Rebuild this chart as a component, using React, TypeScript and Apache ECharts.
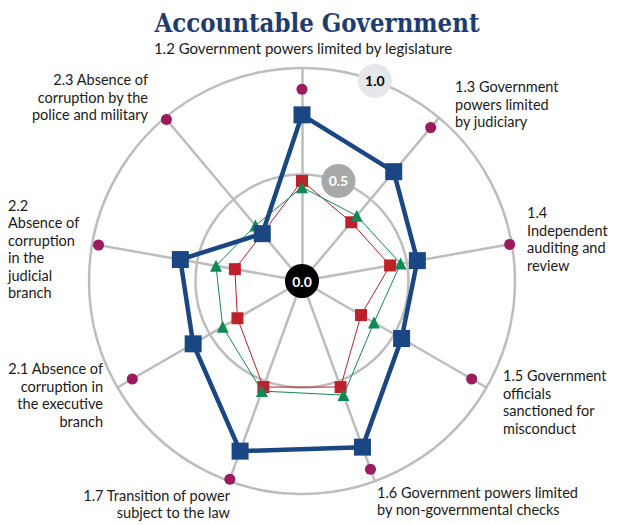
import React, { useEffect, useRef } from "react";
import * as echarts from "echarts";

// Categories in clockwise order starting at the top
const categories = [
  "1.2 Government powers limited by legislature",
  "1.3 Government powers limited by judiciary",
  "1.4 Independent auditing and review",
  "1.5 Government officials sanctioned for misconduct",
  "1.6 Government powers limited by non-governmental checks",
  "1.7 Transition of power subject to the law",
  "2.1 Absence of corruption in the executive branch",
  "2.2 Absence of corruption in the judicial branch",
  "2.3 Absence of corruption by the police and military",
];

const topValues = [0.9, 0.94, 0.99, 0.92, 0.94, 0.99, 0.92, 0.97, 0.99];
const countryValues = [0.78, 0.67, 0.55, 0.54, 0.83, 0.85, 0.59, 0.58, 0.29];
const regionValues = [0.47, 0.36, 0.42, 0.32, 0.53, 0.53, 0.35, 0.32, 0.29];
const incomeValues = [0.44, 0.4, 0.47, 0.39, 0.57, 0.55, 0.43, 0.41, 0.34];

const scaleTicks = [0, 0.5, 1];
const scaleTickLabels = ["0.0", "0.5", "1.0"];

// ECharts radar runs counter-clockwise: keep first, reverse the rest
const toRadar = (arr: any[]) => [arr[0], ...arr.slice(1).reverse()];

const CX = 302;
const CY = 281;
const R = 213;
const FONT = "Lato, 'Open Sans', sans-serif";
const LABEL_SIZE = 14.5;
const LINE_H = 17.5;

export default function App() {
  const ref = useRef<HTMLDivElement>(null);
  useEffect(() => {
    document.body.style.margin = "0";
    const chart = echarts.init(ref.current!, null, { renderer: "svg" });
    const labelStyle = (text: string, x: number, y: number, align: string) => ({
      type: "text",
      x,
      y,
      style: {
        text,
        fontSize: LABEL_SIZE,
        fontFamily: FONT,
        fill: "#1a1a1a",
        align,
        textAlign: align,
        verticalAlign: "top",
        textVerticalAlign: "top",
        lineHeight: LINE_H,
      },
    });
    const option: any = {
      animation: false,
      backgroundColor: "#ffffff",
      title: {
        text: "Accountable Government",
        left: 312,
        textAlign: "center",
        top: 5,
        textStyle: {
          fontFamily: "'DejaVu Serif Condensed', 'Liberation Serif', serif",
          fontWeight: "bold",
          fontSize: 25.5,
          color: "#1F3C70",
        },
      },
      radar: {
        center: [CX, CY],
        radius: R,
        startAngle: 90,
        shape: "circle",
        splitNumber: 2,
        indicator: toRadar(categories).map((c: string) => ({ name: c, min: 0, max: 1 })),
        axisName: { show: false },
        splitLine: { lineStyle: { color: "#BDBDBD", width: 2.5 } },
        splitArea: { show: false },
        axisLine: { lineStyle: { color: "#BDBDBD", width: 2.5 } },
        axisTick: { show: false },
        axisLabel: { show: false },
      },
      polar: { center: [CX, CY], radius: R },
      angleAxis: {
        type: "value",
        min: 0,
        max: 360,
        startAngle: 90,
        clockwise: true,
        show: false,
      },
      radiusAxis: { type: "value", min: 0, max: 1, show: false },
      series: [
        {
          type: "radar",
          z: 2,
          symbol: "circle",
          symbolSize: 11,
          itemStyle: { color: "#9B1B5E" },
          lineStyle: { width: 0, opacity: 0 },
          data: [{ value: toRadar(topValues), name: "Top" }],
        },
        {
          type: "radar",
          z: 3,
          symbol: "rect",
          symbolSize: 12,
          itemStyle: { color: "#C0202A" },
          lineStyle: { width: 1, color: "#C0202A" },
          data: [{ value: toRadar(regionValues), name: "Region" }],
        },
        {
          type: "radar",
          z: 4,
          symbol: "triangle",
          symbolSize: 12,
          itemStyle: { color: "#0F8A55" },
          lineStyle: { width: 1, color: "#0F8A55" },
          data: [{ value: toRadar(incomeValues), name: "Income" }],
        },
        {
          type: "radar",
          z: 5,
          symbol: "rect",
          symbolSize: 17,
          itemStyle: { color: "#1A4784" },
          lineStyle: { width: 4.5, color: "#1A4784" },
          data: [{ value: toRadar(countryValues), name: "Country" }],
        },
        {
          type: "scatter",
          coordinateSystem: "polar",
          z: 10,
          symbol: "circle",
          symbolSize: 34,
          data: scaleTicks.map((t, i) => ({
            value: [t, t === 0 ? 0 : 20],
            name: scaleTickLabels[i],
            itemStyle: {
              opacity: 1,
              color: i === 0 ? "#000000" : i === 1 ? "#A7A8AA" : "#E6E7E8",
            },
            label: {
              show: true,
              position: "inside",
              formatter: scaleTickLabels[i],
              color: i === 2 ? "#000000" : "#ffffff",
              fontWeight: "bold",
              fontSize: 14,
              fontFamily: FONT,
            },
          })),
        },
      ],
      graphic: [
        {
          type: "text",
          x: 303,
          y: 40,
          style: {
            text: categories[0],
            fontSize: 15,
            fontFamily: FONT,
            fill: "#1a1a1a",
            align: "center",
            textAlign: "center",
            verticalAlign: "top",
            textVerticalAlign: "top",
          },
        },
        labelStyle("1.3 Government\npowers limited\nby judiciary", 455, 78, "left"),
        labelStyle("1.4\nIndependent\nauditing and\nreview", 527, 204, "left"),
        labelStyle("1.5 Government\nofficials\nsanctioned for\nmisconduct", 503, 367, "left"),
        labelStyle("1.6 Government powers limited\nby non-governmental checks", 377, 483.5, "left"),
        labelStyle("1.7 Transition of power\nsubject to the law", 230, 486.5, "right"),
        labelStyle("2.1 Absence of\ncorruption in\nthe executive\nbranch", 103, 360, "right"),
        labelStyle("2.2\nAbsence of\ncorruption\nin the\njudicial\nbranch", 8, 196.5, "left"),
        labelStyle("2.3 Absence of\ncorruption by the\npolice and military", 148, 71, "right"),
      ],
    };
    chart.setOption(option);
    return () => chart.dispose();
  }, []);
  return <div ref={ref} style={{ width: 624, height: 525 }} />;
}
